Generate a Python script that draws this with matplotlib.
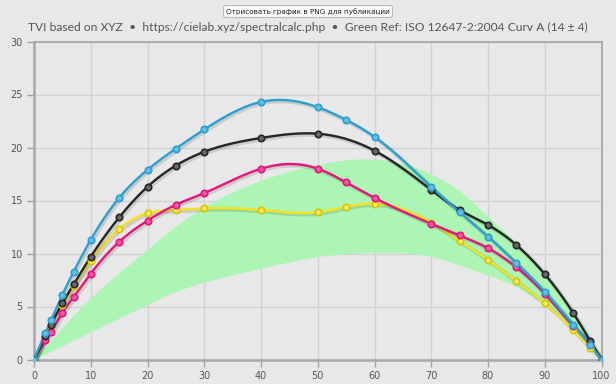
import numpy as np
import matplotlib
matplotlib.use("Agg")
import matplotlib.pyplot as plt
import matplotlib.patheffects as pe

# ---------------- data ----------------
x_c = [0, 2, 3, 5, 7, 10, 15, 20, 25, 30, 40, 50, 55, 60, 70, 75, 80, 85, 90, 95, 98, 100]
cyan = [0, 2.5, 3.7, 6.1, 8.3, 11.3, 15.25, 17.9, 19.9, 21.7, 24.3, 23.8, 22.6, 21.0, 16.3, 13.9, 11.6, 9.1, 6.4, 3.3, 1.4, 0]
magenta = [0, 1.8, 2.6, 4.4, 5.9, 8.1, 11.1, 13.1, 14.6, 15.7, 18.0, 18.0, 16.7, 15.25, 12.8, 11.7, 10.5, 8.7, 6.2, 3.2, 1.5, 0]
yellow = [0, 2.1, 3.2, 5.1, 6.9, 9.3, 12.3, 13.8, 14.1, 14.25, 14.1, 13.9, 14.4, 14.7, 12.9, 11.2, 9.4, 7.4, 5.3, 2.8, 1.1, 0]
x_k = [0, 2, 3, 5, 7, 10, 15, 20, 25, 30, 40, 50, 60, 70, 75, 80, 85, 90, 95, 98, 100]
black = [0, 2.2, 3.3, 5.3, 7.1, 9.7, 13.4, 16.3, 18.3, 19.6, 20.9, 21.3, 19.7, 16.0, 14.1, 12.7, 10.8, 8.05, 4.4, 1.76, 0]

x_band = [0, 10, 20, 25, 30, 40, 50, 60, 70, 75, 80, 85, 90, 95, 98, 100]
band_low = [0, 2.6, 5.2, 6.4, 7.3, 8.6, 9.7, 10.1, 9.7, 8.9, 7.95, 6.85, 5.1, 2.9, 1.2, 0]
band_high = [0, 5.8, 10.4, 12.6, 14.4, 16.9, 18.4, 18.9, 17.5, 15.9, 13.5, 11.0, 8.1, 4.6, 2.1, 0]

x_ticks = [0, 10, 20, 30, 40, 50, 60, 70, 80, 90, 100]
y_ticks = [0, 5, 10, 15, 20, 25, 30]

title = "TVI based on XYZ  \u2022  https://cielab.xyz/spectralcalc.php  \u2022  Green Ref: ISO 12647-2:2004 Curv A (14 \u00b1 4)"
button_text = "Отрисовать график в PNG для публикации"

# ---------------- helpers ----------------
def natural_spline(xs, ys, per_seg=30):
    x = np.asarray(xs, float); y = np.asarray(ys, float)
    n = len(x)
    h = np.diff(x)
    A = np.zeros((n, n)); r = np.zeros(n)
    A[0, 0] = 1; A[-1, -1] = 1
    for i in range(1, n - 1):
        A[i, i - 1] = h[i - 1]
        A[i, i] = 2 * (h[i - 1] + h[i])
        A[i, i + 1] = h[i]
        r[i] = 6 * ((y[i + 1] - y[i]) / h[i] - (y[i] - y[i - 1]) / h[i - 1])
    M = np.linalg.solve(A, r)
    xo = []; yo = []
    for i in range(n - 1):
        t = np.linspace(x[i], x[i + 1], per_seg, endpoint=(i == n - 2))
        a = (x[i + 1] - t) / h[i]; b = (t - x[i]) / h[i]
        s = a * y[i] + b * y[i + 1] + ((a ** 3 - a) * M[i] + (b ** 3 - b) * M[i + 1]) * h[i] ** 2 / 6
        xo.append(t); yo.append(s)
    return np.concatenate(xo), np.concatenate(yo)

def lighten(c, f):
    r, g, b = matplotlib.colors.to_rgb(c)
    return (r + (1 - r) * f, g + (1 - g) * f, b + (1 - b) * f)

# ---------------- figure ----------------
BG = "#e8e8e8"
W, H = 616, 384
fig = plt.figure(figsize=(W / 100, H / 100), dpi=100, facecolor=BG)
ax = fig.add_axes([34 / W, 1 - 359.5 / H, (601.5 - 34) / W, (359.5 - 41.5) / H])
ax.set_facecolor(BG)
ax.set_xlim(0, 100)
ax.set_ylim(0, 30)

# reference band
bx, bh = natural_spline(x_band, band_high)
_, bl = natural_spline(x_band, band_low)
ax.fill_between(bx, bl, bh, color="#adf5b4", lw=0, zorder=1)

series = [
    (x_c, yellow, "#f5e31e", "#d8c400"),
    (x_c, magenta, "#e6157d", "#e6157d"),
    (x_k, black, "#262626", "#262626"),
    (x_c, cyan, "#2aa0d2", "#2aa0d2"),
]
for xs, ys, col, ecol in series:
    sx, sy = natural_spline(xs, ys)
    ax.plot(sx, sy, color=col, lw=1.7, zorder=3, solid_capstyle="round",
            path_effects=[pe.SimpleLineShadow(offset=(1, -1), shadow_color="#000000", alpha=0.12, linewidth=3),
                          pe.Normal()])
    ax.plot(xs, ys, linestyle="none", marker="o", ms=4.6, mfc=lighten(col, 0.3), mec=ecol, mew=1.2, zorder=4)

# grid & axes
ax.set_xticks(x_ticks)
ax.set_yticks(y_ticks)
ax.grid(True, color="#d2d2d2", lw=1.0, zorder=0)
ax.set_axisbelow(True)
for s in ax.spines.values():
    s.set_color("#a8a8a8")
    s.set_linewidth(1.3)
ax.spines["left"].set_linewidth(1.8)
ax.spines["bottom"].set_linewidth(1.8)
ax.tick_params(axis="both", colors="#a0a0a0", labelcolor="#555555", labelsize=7, length=5, width=1, pad=3)

# title, fitted to reference width
renderer = fig.canvas.get_renderer()
t = fig.text(0.5, 1 - 27 / H, title, ha="center", va="center", fontsize=9, color="#555555", family="Lato")
w = t.get_window_extent(renderer).width
t.set_fontsize(9 * 558 / w)

b = fig.text(0.5, 1 - 11.5 / H, button_text, ha="center", va="center", fontsize=6, color="#222222",
             family="DejaVu Sans")
w = b.get_window_extent(renderer).width
b.set_fontsize(6 * 166 / w)
b.set_bbox(dict(boxstyle="round,pad=0.35,rounding_size=0.3", fc="#fbfbfb", ec="#b8b8b8", lw=0.8))

fig.savefig("out.png", dpi=100, facecolor=BG)
